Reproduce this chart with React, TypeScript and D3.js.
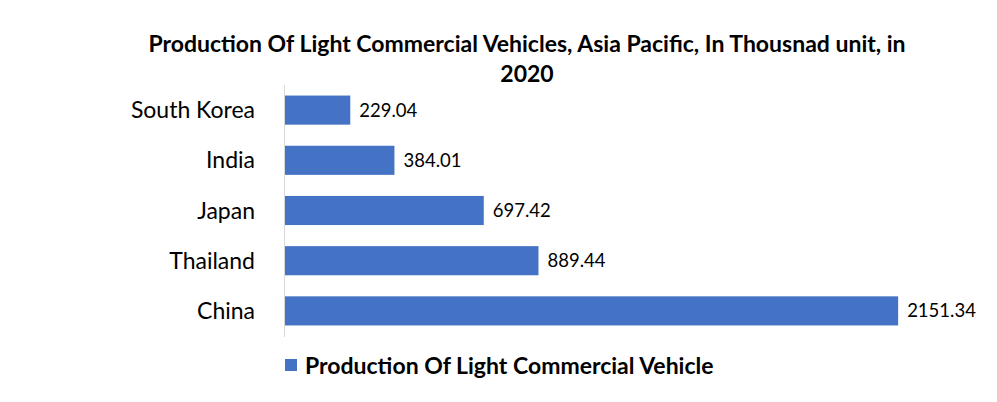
import React, { useEffect } from 'react';
import * as d3 from 'd3';

const countries = ['South Korea', 'India', 'Japan', 'Thailand', 'China'];
const production = [229.04, 384.01, 697.42, 889.44, 2151.34];
const titleLines = ['Production Of Light Commercial Vehicles, Asia Pacific, In Thousnad unit, in', '2020'];
const seriesName = 'Production Of Light Commercial Vehicle';

const width = 997;
const height = 402;
const barColor = '#4472C4';
const font = 'Lato, "Open Sans", sans-serif';

export default function App() {
    useEffect(() => {
        document.body.style.margin = '0';
    }, []);

    const x = d3.scaleLinear().domain([0, 2500]).range([285, 997.5]);
    const y = d3.scaleBand<string>().domain(countries).range([85, 336]).paddingInner(0.42).paddingOuter(0.21);

    return (
        <svg width={width} height={height} style={{ display: 'block', background: '#fff' }}>
            {titleLines.map((t, i) => (
                <text key={i} x={527} y={52 + i * 30} textAnchor="middle" fontFamily={font}
                    fontWeight="bold" fontSize={23} fill="#000">{t}</text>
            ))}

            <line x1={x(0) - 0.5} x2={x(0) - 0.5} y1={85} y2={337} stroke="#d9d9d9" strokeWidth={1} />

            {countries.map((c, i) => (
                <g key={c}>
                    <rect x={x(0)} y={y(c)!} width={x(production[i]) - x(0)} height={y.bandwidth()} fill={barColor} />
                    <text x={255} y={y(c)! + y.bandwidth() / 2} dy="0.35em" textAnchor="end"
                        fontFamily={font} fontSize={23} fill="#000">{c}</text>
                    <text x={x(production[i]) + 9} y={y(c)! + y.bandwidth() / 2} dy="0.35em"
                        fontFamily={font} fontSize={18.5} fill="#000">{d3.format('.2f')(production[i])}</text>
                </g>
            ))}

            <rect x={285} y={359} width={12} height={12} fill={barColor} />
            <text x={305} y={374} fontFamily={font} fontWeight="bold" fontSize={23} fill="#000">{seriesName}</text>
        </svg>
    );
}
